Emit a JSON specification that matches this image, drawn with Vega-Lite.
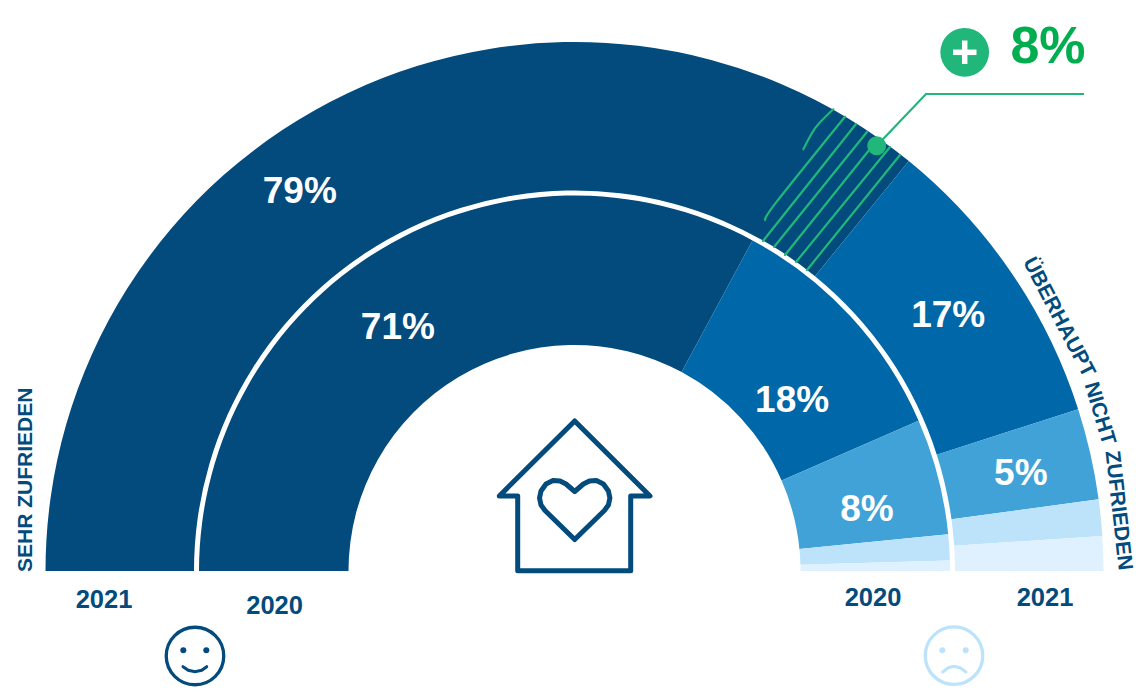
{
"$schema":"https://vega.github.io/schema/vega-lite/v6.json",
"width":1136,"height":692,"padding":0,
"autosize":{"type":"fit","contains":"padding"},
"background":"#ffffff",
"config":{"view":{"stroke":null}},
"datasets":{
"arcs":[
{"year":"2021","cat":"sehr zufrieden","label":"79%","a0":0,"a1":129.2,"r0":380.5,"r1":529,"la":54.2,"lr":469.6},
{"year":"2021","cat":"zufrieden","label":"17%","a0":129.2,"a1":162.2,"r0":380.5,"r1":529,"la":145.5,"lr":453.4},
{"year":"2021","cat":"teils","label":"5%","a0":162.2,"a1":172.2,"r0":380.5,"r1":529,"la":167.6,"lr":457},
{"year":"2021","cat":"weniger","label":"","a0":172.2,"a1":176.2,"r0":380.5,"r1":529,"la":174,"lr":457},
{"year":"2021","cat":"nicht","label":"","a0":176.2,"a1":180,"r0":380.5,"r1":529,"la":178,"lr":457},
{"year":"2020","cat":"sehr zufrieden","label":"71%","a0":0,"a1":118.3,"r0":226,"r1":375.5,"la":54.2,"lr":302},
{"year":"2020","cat":"zufrieden","label":"18%","a0":118.3,"a1":156.4,"r0":226,"r1":375.5,"la":141.7,"lr":277.3},
{"year":"2020","cat":"teils","label":"8%","a0":156.4,"a1":174.4,"r0":226,"r1":375.5,"la":168,"lr":299},
{"year":"2020","cat":"weniger","label":"","a0":174.4,"a1":178.4,"r0":226,"r1":375.5,"la":176,"lr":299},
{"year":"2020","cat":"nicht","label":"","a0":178.4,"a1":180,"r0":226,"r1":375.5,"la":179,"lr":299}
],
"hatch":[
{"g":1,"i":0,"x":833.3,"y":109.3},{"g":1,"i":1,"x":815,"y":128.3},{"g":1,"i":2,"x":803.3,"y":149.3},
{"g":2,"i":0,"x":845,"y":116.7},{"g":2,"i":1,"x":776.7,"y":201.7},{"g":2,"i":2,"x":765,"y":220},
{"g":3,"i":0,"x":856,"y":124},{"g":3,"i":1,"x":763,"y":241},
{"g":4,"i":0,"x":867,"y":132},{"g":4,"i":1,"x":774,"y":247},
{"g":5,"i":0,"x":878,"y":139},{"g":5,"i":1,"x":785,"y":255},
{"g":6,"i":0,"x":890,"y":147},{"g":6,"i":1,"x":796,"y":262},
{"g":7,"i":0,"x":900,"y":155},{"g":7,"i":1,"x":807,"y":270}
],
"leader":[{"i":0,"x":876.7,"y":145.7},{"i":1,"x":926,"y":94},{"i":2,"x":1084,"y":94}],
"plus":[{"g":1,"i":0,"x":953,"y":52.3},{"g":1,"i":1,"x":976.5,"y":52.3},{"g":2,"i":0,"x":964.7,"y":40.5},{"g":2,"i":1,"x":964.7,"y":64}],
"house":[{"i":0,"x":517.7,"y":496},{"i":1,"x":499.3,"y":496},{"i":2,"x":574.7,"y":421},{"i":3,"x":650,"y":496},{"i":4,"x":630.7,"y":496},{"i":5,"x":630.7,"y":570.7},{"i":6,"x":517.7,"y":570.7},{"i":7,"x":517.7,"y":496}],
"heart":[{"i":0,"x":574.7,"y":539.5},{"i":1,"x":545,"y":510.5},{"i":2,"x":541,"y":505},{"i":3,"x":539.5,"y":498},{"i":4,"x":541,"y":491},{"i":5,"x":546,"y":484},{"i":6,"x":553,"y":480.5},{"i":7,"x":560,"y":481},{"i":8,"x":566,"y":484},{"i":9,"x":574.7,"y":491.5},{"i":10,"x":583.4,"y":484},{"i":11,"x":589.4,"y":481},{"i":12,"x":596.4,"y":480.5},{"i":13,"x":603.4,"y":484},{"i":14,"x":608.4,"y":491},{"i":15,"x":609.9,"y":498},{"i":16,"x":608.4,"y":505},{"i":17,"x":604.4,"y":510.5},{"i":18,"x":574.7,"y":539.5}],
"smile":[{"i":0,"x":183,"y":666.7},{"i":1,"x":188.3,"y":670.3},{"i":2,"x":195,"y":671.7},{"i":3,"x":201.7,"y":670.3},{"i":4,"x":206.7,"y":666.7}],
"frown":[{"i":0,"x":942.7,"y":672},{"i":1,"x":948.3,"y":667.7},{"i":2,"x":954,"y":666.3},{"i":3,"x":960,"y":667.7},{"i":4,"x":966,"y":672}],
"years":[{"t":"2021","x":104,"y":608.3},{"t":"2020","x":274.6,"y":614},{"t":"2020","x":873,"y":606},{"t":"2021","x":1045,"y":606}],
"curved":[{"t":"ÜBERHAUPT","x":1053.3,"y":320.2,"a":62.35},{"t":"NICHT","x":1093.6,"y":415.2,"a":73.3},{"t":"ZUFRIEDEN","x":1112.2,"y":511.2,"a":83.65}]
},
"layer":[
{"data":{"name":"arcs"},"mark":{"type":"arc"},
"encoding":{
"x":{"datum":574.5,"type":"quantitative","axis":null,"scale":{"domain":[0,1136],"nice":false,"zero":false}},
"y":{"datum":571,"type":"quantitative","axis":null,"scale":{"domain":[692,0],"nice":false,"zero":false}},
"theta":{"field":"a0","type":"quantitative","scale":{"domain":[0,180],"range":[-1.570796,1.570796]}},
"theta2":{"field":"a1"},
"radius":{"field":"r1","type":"quantitative","scale":{"type":"linear","domain":[0,530],"range":[0,530]}},
"radius2":{"field":"r0"},
"fill":{"field":"cat","type":"nominal","legend":null,"scale":{"domain":["sehr zufrieden","zufrieden","teils","weniger","nicht"],"range":["#024B7C","#0068A8","#41A2D8","#BDE3FA","#DFF1FE"]}}
}},
{"encoding":{
"x":{"field":"x","type":"quantitative","axis":null,"scale":{"domain":[0,1136],"nice":false,"zero":false}},
"y":{"field":"y","type":"quantitative","axis":null,"scale":{"domain":[692,0],"nice":false,"zero":false}}
},
"layer":[
{"data":{"name":"hatch"},"mark":{"type":"line","stroke":"#21B67A","strokeWidth":2.2,"strokeCap":"round","interpolate":"cardinal"},
"encoding":{"detail":{"field":"g"},"order":{"field":"i"}}},
{"data":{"name":"leader"},"mark":{"type":"line","stroke":"#21B67A","strokeWidth":2.2},"encoding":{"order":{"field":"i"}}},
{"data":{"values":[{"x":876.7,"y":145.7}]},"mark":{"type":"point","filled":true,"size":361,"color":"#21B67A","opacity":1}},
{"data":{"values":[{"x":964.7,"y":52.3}]},"mark":{"type":"point","filled":true,"size":2372,"color":"#21B67A","opacity":1}},
{"data":{"name":"plus"},"mark":{"type":"line","stroke":"#ffffff","strokeWidth":5.5},"encoding":{"detail":{"field":"g"},"order":{"field":"i"}}},
{"data":{"values":[{"t":"8%","x":1048,"y":62.5}]},"mark":{"type":"text","font":"Liberation Sans","fontWeight":"bold","fontSize":52,"color":"#00AE4F","align":"center","baseline":"alphabetic"},"encoding":{"text":{"field":"t"}}},
{"data":{"name":"house"},"mark":{"type":"line","stroke":"#024B7C","strokeWidth":5,"strokeJoin":"round","strokeCap":"round"},"encoding":{"order":{"field":"i"}}},
{"data":{"name":"heart"},"mark":{"type":"line","stroke":"#024B7C","strokeWidth":5,"strokeJoin":"round","strokeCap":"round"},"encoding":{"order":{"field":"i"}}},
{"data":{"values":[{"x":195,"y":656}]},"mark":{"type":"point","filled":false,"size":3306,"stroke":"#024B7C","strokeWidth":3.3,"opacity":1}},
{"data":{"values":[{"x":183.3,"y":650.3},{"x":206.3,"y":650.3}]},"mark":{"type":"point","filled":true,"size":36,"color":"#024B7C","opacity":1}},
{"data":{"name":"smile"},"mark":{"type":"line","stroke":"#024B7C","strokeWidth":3,"strokeCap":"round"},"encoding":{"order":{"field":"i"}}},
{"data":{"values":[{"x":954,"y":655.7}]},"mark":{"type":"point","filled":false,"size":3306,"stroke":"#BDE3FA","strokeWidth":3.3,"opacity":1}},
{"data":{"values":[{"x":942.3,"y":650.3},{"x":965.7,"y":650.3}]},"mark":{"type":"point","filled":true,"size":36,"color":"#BDE3FA","opacity":1}},
{"data":{"name":"frown"},"mark":{"type":"line","stroke":"#BDE3FA","strokeWidth":3,"strokeCap":"round"},"encoding":{"order":{"field":"i"}}},
{"data":{"name":"years"},"mark":{"type":"text","font":"Liberation Sans","fontWeight":"bold","fontSize":25.5,"color":"#024B7C","align":"center","baseline":"alphabetic"},"encoding":{"text":{"field":"t"}}},
{"data":{"values":[{"t":"SEHR ZUFRIEDEN","x":31.5,"y":572}]},"mark":{"type":"text","font":"Liberation Sans","fontWeight":"bold","fontSize":21,"color":"#024B7C","align":"left","baseline":"alphabetic","angle":270},"encoding":{"text":{"field":"t"}}},
{"data":{"name":"curved"},"mark":{"type":"text","font":"Liberation Sans","fontWeight":"bold","fontSize":21,"color":"#024B7C","align":"center","baseline":"alphabetic"},"encoding":{"text":{"field":"t"},"angle":{"field":"a","type":"quantitative","scale":null}}}
]},
{"data":{"name":"arcs"},"transform":[{"filter":"datum.label != ''"}],"mark":{"type":"text","font":"Liberation Sans","fontWeight":"bold","fontSize":37,"color":"#ffffff","align":"center","baseline":"middle","dy":1.5},
"encoding":{
"x":{"datum":574.5,"type":"quantitative","axis":null,"scale":{"domain":[0,1136],"nice":false,"zero":false}},
"y":{"datum":571,"type":"quantitative","axis":null,"scale":{"domain":[692,0],"nice":false,"zero":false}},
"theta":{"field":"la","type":"quantitative","stack":null,"scale":{"domain":[0,180],"range":[-1.570796,1.570796]}},
"radius":{"field":"lr","type":"quantitative","scale":{"type":"linear","domain":[0,530],"range":[0,530]}},
"text":{"field":"label"}
}}
]
}
